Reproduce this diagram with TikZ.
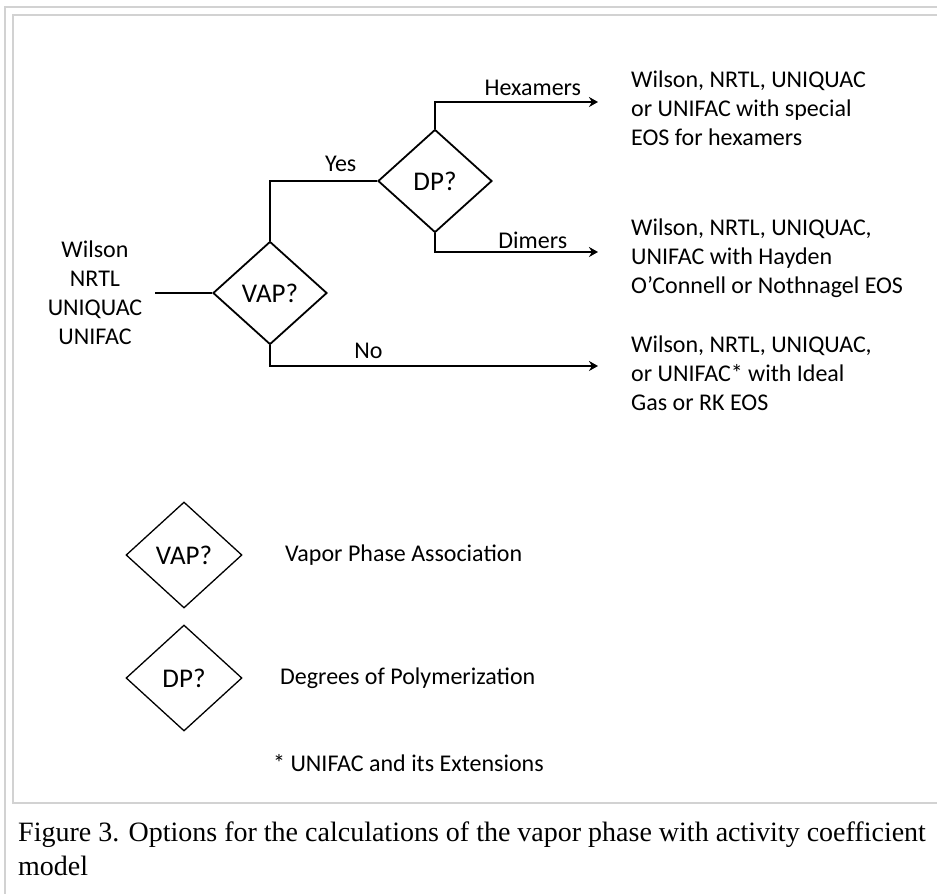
\documentclass[tikz,border=0pt]{standalone}
\usepackage{fontspec}
\setmainfont{Carlito}
\newfontfamily\capfont{Liberation Serif}
\usetikzlibrary{shapes.geometric,arrows.meta}
\tikzset{
  decision/.style={diamond, draw, line width=1.8pt, minimum width=114pt, minimum height=103pt, inner sep=0pt, font=\fontsize{27}{30}\selectfont},
  keydecision/.style={decision, line width=1.3pt, minimum width=116pt, minimum height=106pt},
  link/.style={line width=2pt},
  linkarrow/.style={link, -{Stealth[length=9pt,width=10pt]}},
  txt/.style={inner sep=0pt, align=left, font=\fontsize{24}{29}\selectfont},
  branch/.style={inner sep=0pt, font=\fontsize{24}{29}\selectfont},
  frame/.style={line width=2pt, gray!35},
}
\begin{document}
\begin{tikzpicture}[x=1pt, y=-1pt, line join=miter]
  % page
  \useasboundingbox[fill=white] (0,0) rectangle (937,894);
  % frames
  \draw[frame] (5,894) -- (5,7) -- (937,7);
  \draw[frame] (937,15) -- (13,15) -- (13,803) -- (937,803);
  % decisions
  \node[decision] (vap) at (270,293) {VAP?};
  \node[decision] (dp) at (435,181) {DP?};
  % models
  \node[txt, align=center, inner xsep=13pt] (models) at (95,293) {Wilson\\NRTL\\UNIQUAC\\UNIFAC};
  % results
  \node[txt, anchor=west] (hexa) at (631,108) {Wilson, NRTL, UNIQUAC\\or UNIFAC with special\\EOS for hexamers};
  \node[txt, anchor=west] (dimer) at (631,258) {Wilson, NRTL, UNIQUAC,\\UNIFAC with Hayden\\O'Connell or Nothnagel EOS};
  \node[txt, anchor=west] (ideal) at (631,373) {Wilson, NRTL, UNIQUAC,\\or UNIFAC* with Ideal\\Gas or RK EOS};
  % arrow ends
  \coordinate (hexend) at (598,102);
  \coordinate (dimend) at (598,252);
  \coordinate (noend) at (598,366);
  % connectors
  \draw[link] (models.east) -- (vap.west);
  \draw[link] (vap.north) |- node[branch, pos=0.83, above=8pt] (yes) {Yes} (dp.west);
  \draw[linkarrow] (dp.north) |- node[branch, pos=0.8, above=5pt] (hexlbl) {Hexamers} (hexend);
  \draw[linkarrow] (dp.south) |- node[branch, pos=0.8, above=2pt] (dimlbl) {Dimers} (dimend);
  \draw[linkarrow] (vap.south) |- node[branch, pos=0.65, above=6pt] (no) {No} (noend);
  % key
  \node[keydecision] (vapkey) at (184,555) {VAP?};
  \node[txt, anchor=west] (vapdesc) at (285,555) {Vapor Phase Association};
  \node[keydecision] (dpkey) at (184,678) {DP?};
  \node[txt, anchor=west] (dpdesc) at (280,678) {Degrees of Polymerization};
  \node[txt, anchor=west] (note) at (273,763) {* UNIFAC and its Extensions};
  % caption
  \node[anchor=west, inner sep=0pt, align=left, font=\capfont\fontsize{28}{34}\selectfont] (caption) at (18,849)
    {Figure 3. Options for the calculations of the vapor phase with activity coefficient\\model};
\end{tikzpicture}
\end{document}
